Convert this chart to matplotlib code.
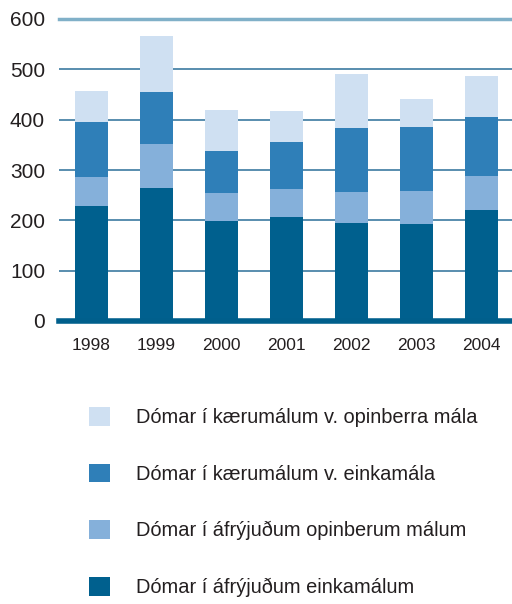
import numpy as np
import matplotlib
matplotlib.use("Agg")
import matplotlib.pyplot as plt

plt.rcParams['font.family'] = ['Liberation Sans', 'DejaVu Sans']

years = ['1998', '1999', '2000', '2001', '2002', '2003', '2004']
# stacked from bottom to top
afr_einka = [228, 264, 199, 207, 195, 193, 221]
afr_opinb = [58, 88, 55, 55, 61, 65, 67]
kaer_einka = [109, 103, 84, 94, 127, 127, 117]
kaer_opinb = [62, 111, 81, 61, 108, 56, 82]

series = [afr_einka, afr_opinb, kaer_einka, kaer_opinb]
labels = ['Dómar í áfrýjuðum einkamálum',
          'Dómar í áfrýjuðum opinberum málum',
          'Dómar í kærumálum v. einkamála',
          'Dómar í kærumálum v. opinberra mála']
colors = ['#00608e', '#85b0da', '#2f7fb8', '#cfe0f2']
text_col = '#231f20'

fig = plt.figure(figsize=(5.12, 6.04), dpi=100)
ax = fig.add_axes([59/512, 1-321/604, 1-59/512, 302/604])

x = np.arange(len(years))
bottom = np.zeros(len(years))
bars = []
for vals, lab, col in zip(series, labels, colors):
    b = ax.bar(x, vals, 0.51, bottom=bottom, color=col, label=lab, zorder=3)
    bars.append(b)
    bottom += np.array(vals)

# gridlines
for yv in [100, 200, 300, 400, 500]:
    ax.axhline(yv, color='#2b6f98', lw=1.1, zorder=1)
ax.axhline(600, color='#80b0c8', lw=2.5, zorder=1, clip_on=False)
ax.axhline(0, color='#005f8c', lw=4, zorder=4, clip_on=False)

ax.set_xlim(-0.5, 6.47)
ax.set_ylim(0, 600)
ax.set_yticks(range(0, 601, 100))
ax.set_xticks(x)
ax.set_xticklabels(years)
ax.tick_params(axis='y', length=0, pad=10, labelsize=15, labelcolor=text_col)
ax.tick_params(axis='x', length=0, pad=12, labelsize=12.5, labelcolor=text_col)
for s in ax.spines.values():
    s.set_visible(False)

fig.legend(handles=bars[::-1], labels=labels[::-1], loc='upper left',
           bbox_to_anchor=(79/512, 1-397/604), frameon=False, fontsize=14.4,
           handlelength=1.05, handleheight=1.05, handletextpad=1.3,
           labelspacing=1.83, borderpad=0, labelcolor=text_col)

fig.savefig('out.png', dpi=100)
